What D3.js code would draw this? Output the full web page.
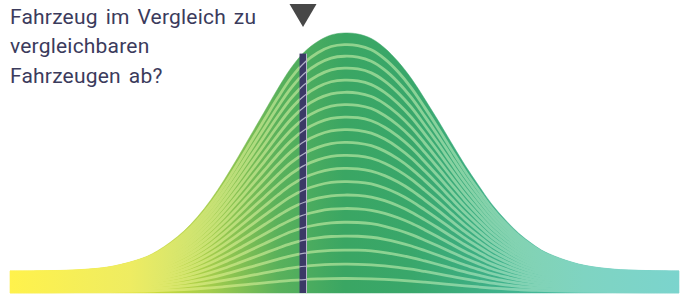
<!DOCTYPE html>
<html lang="de">
<head>
<meta charset="utf-8">
<script src="https://cdn.jsdelivr.net/npm/d3@7"></script>
<style>
  body { margin: 0; background: #fff; }
  svg { display: block; }
</style>
</head>
<body>
<script>
  // distribution (score 0..100, density above the floor)
  const scores  = [0, 5, 10, 15, 20, 22, 24, 26, 28, 30, 32, 34, 36, 38, 40, 42, 44, 46, 48, 50,
                   52, 54, 56, 58, 60, 62, 64, 66, 68, 70, 72, 74, 76, 78, 80, 85, 90, 95, 100];
  const density = [0, 0.3, 1.2, 4.4, 13.4, 20, 29, 40, 54, 71, 91, 113, 136, 159, 182, 203, 219, 229.5, 236, 238,
                   237, 232.5, 223, 209.5, 192.5, 172, 150.5, 128, 106, 86, 67, 51.5, 38, 27.5, 19, 7, 2, 0.5, 0];
  const floorValue = 22;
  // share of each stacked layer, bottom first
  const layerWeights = [14.3, 14.1, 13.9, 13.8, 13.6, 13.5, 13.3, 13.2, 13.0, 12.9,
                        12.7, 12.6, 12.4, 12.3, 12.1, 12.0, 11.8, 11.7, 11.5, 11.4];
  const markerScore = 43.8;
  const titleLines = ["Fahrzeug im Vergleich zu", "vergleichbaren", "Fahrzeugen ab?"];

  const w = 686, h = 297;
  const margin = {left: 10, right: 7, bottom: 4};

  const svg = d3.select("body").append("svg")
    .attr("width", w)
    .attr("height", h);

  const x = d3.scaleLinear().domain([0, 100]).range([margin.left, w - margin.right]);
  const y = d3.scaleLinear().domain([0, 260]).range([h - margin.bottom, 33]);

  const keys = layerWeights.map((d, i) => "l" + i);
  const wSum = d3.sum(layerWeights);
  const rows = scores.map((s, i) => {
    const row = {score: s};
    const total = floorValue + density[i];
    layerWeights.forEach((lw, k) => row[keys[k]] = total * lw / wSum);
    return row;
  });
  const series = d3.stack().keys(keys)(rows);

  const defs = svg.append("defs");
  function gradient(id, stops) {
    const g = defs.append("linearGradient")
      .attr("id", id)
      .attr("gradientUnits", "userSpaceOnUse")
      .attr("x1", x(0)).attr("x2", x(100))
      .attr("y1", 0).attr("y2", 0);
    stops.forEach(s => g.append("stop").attr("offset", s[0]).attr("stop-color", s[1]));
  }
  gradient("fillGrad", [
    [0, "#f6e51d"], [0.18, "#dce034"], [0.3, "#a3cc4c"], [0.4, "#5ab15b"],
    [0.5, "#3aa663"], [0.6, "#39a76b"], [0.72, "#3eb088"], [0.86, "#4bbea8"], [1, "#58c6bf"]
  ]);
  gradient("lineGrad", [
    [0, "#fff24c"], [0.18, "#eeec62"], [0.3, "#c8e274"], [0.4, "#a2d784"],
    [0.5, "#90d38d"], [0.6, "#8ad295"], [0.72, "#84d2ac"], [0.86, "#7fd4c2"], [1, "#7bd4cd"]
  ]);

  const curve = d3.curveCatmullRom.alpha(0.5);

  const area = d3.area()
    .curve(curve)
    .x(d => x(d.data.score))
    .y0(d => y(d[0]))
    .y1(d => y(d[1]));

  const line = d3.line()
    .curve(curve)
    .x(d => x(d.data.score))
    .y(d => y(d[1]));

  const chart = svg.append("g");

  chart.selectAll("path.band")
    .data(series)
    .enter()
    .append("path")
    .attr("class", "band")
    .attr("d", area)
    .attr("fill", "url(#fillGrad)")
    .attr("stroke", "url(#fillGrad)")
    .attr("stroke-width", 0.5);

  // light line on every inner layer boundary
  const inner = series.slice(0, series.length - 1);
  chart.selectAll("path.edge")
    .data(inner)
    .enter()
    .append("path")
    .attr("class", "edge")
    .attr("d", line)
    .attr("fill", "none")
    .attr("stroke", "url(#lineGrad)")
    .attr("stroke-width", 2.8);

  // marker bar
  const totals = density.map(d => d + floorValue);
  const totalAt = d3.scaleLinear().domain(scores).range(totals);
  const mx = x(markerScore);
  const barW = 7;
  const barTop = y(totalAt(markerScore));

  defs.append("clipPath").attr("id", "barClip")
    .append("rect")
    .attr("x", mx - barW / 2).attr("y", barTop)
    .attr("width", barW).attr("height", y(0) - barTop);

  chart.append("rect")
    .attr("x", mx - barW / 2)
    .attr("y", barTop)
    .attr("width", barW)
    .attr("height", y(0) - barTop)
    .attr("fill", "#3b3966");

  chart.append("g")
    .attr("clip-path", "url(#barClip)")
    .selectAll("path")
    .data(inner)
    .enter()
    .append("path")
    .attr("d", line)
    .attr("fill", "none")
    .attr("stroke", "#d8d8e8")
    .attr("stroke-opacity", 0.75)
    .attr("stroke-width", 1.2);

  chart.append("line")
    .attr("x1", mx + barW / 2).attr("x2", mx + barW / 2)
    .attr("y1", barTop).attr("y2", y(0))
    .attr("stroke", "#b9b9cc")
    .attr("stroke-width", 1);

  // triangle pointer
  svg.append("path")
    .attr("d", d3.line()([[mx - 13.5, 4], [mx + 13.5, 4], [mx, 27]]) + "Z")
    .attr("fill", "#474747");

  svg.append("g")
    .selectAll("text")
    .data(titleLines)
    .enter()
    .append("text")
    .attr("x", 10)
    .attr("y", (d, i) => 23.5 + i * 29.7)
    .style("font-family", "Roboto, sans-serif")
    .style("font-size", "21px")
    .style("word-spacing", "2.5px")
    .style("letter-spacing", "0.2px")
    .style("fill", "#3b3b5c")
    .text(d => d);
</script>
</body>
</html>
